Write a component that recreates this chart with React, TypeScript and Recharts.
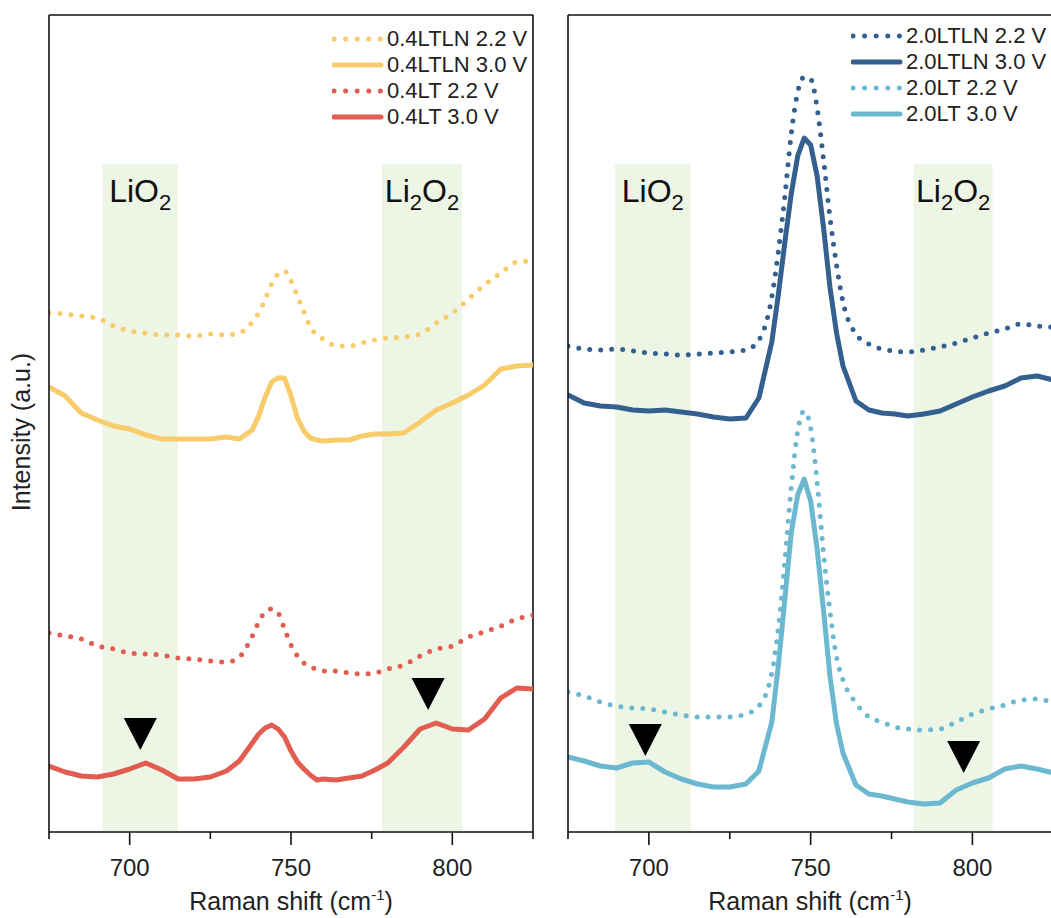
import React from "react";
import {
  ComposedChart,
  Line,
  XAxis,
  YAxis,
  ReferenceArea,
  ReferenceLine,
  ReferenceDot,
} from "recharts";

// Raman shift grid (cm-1), shared by every trace
const shift = [
  675, 680, 685, 690, 695, 700, 705, 710, 715, 720, 725, 730, 734, 738, 740,
  742, 744, 746, 748, 750, 752, 754, 756, 758, 760, 764, 768, 772, 776, 780,
  785, 790, 795, 800, 805, 810, 815, 820, 825,
];

// intensities (a.u.)
const ltln04At22 = [
  519, 518, 516, 514, 506, 501, 499, 497, 497, 496, 498, 497, 499, 510, 519,
  533, 548, 558, 561, 551, 536, 520, 505, 497, 493, 486, 486, 489, 492, 494,
  495, 498, 509, 519, 533, 547, 559, 570, 571,
];
const ltln04At30 = [
  445, 436, 419, 412, 406, 403, 397, 393, 393, 393, 393, 395, 393, 402, 416,
  435, 450, 454, 454, 436, 414, 401, 394, 392, 391, 392, 392, 396, 398, 398,
  399, 410, 422, 429, 437, 447, 463, 466, 467,
];
const lt04At22 = [
  199, 196, 193, 186, 183, 179, 178, 177, 174, 173, 171, 170, 175, 196, 210,
  220, 223, 219, 203, 187, 176, 169, 165, 163, 161, 161, 159, 158, 159, 163,
  167, 176, 183, 186, 195, 200, 206, 213, 217,
];
const lt04At30 = [
  66, 60, 56, 55, 58, 63, 69, 62, 53, 53, 55, 61, 71, 89, 98, 104, 107, 103,
  95, 81, 70, 63, 57, 52, 53, 52, 54, 56, 62, 69, 85, 103, 109, 103, 102, 113,
  134, 144, 143,
];
const ltln20At22 = [
  486, 483, 482, 483, 481, 479, 478, 477, 478, 479, 480, 482, 492, 535, 580,
  635, 698, 740, 755, 753, 724, 672, 614, 567, 530, 498, 488, 483, 481, 480,
  482, 485, 489, 494, 499, 503, 508, 506, 505,
];
const ltln20At30 = [
  437, 429, 426, 425, 422, 421, 422, 420, 418, 415, 413, 414, 434, 490, 537,
  589, 638, 676, 694, 687, 656, 604, 544, 499, 466, 431, 422, 419, 418, 416,
  418, 421, 428, 435, 441, 446, 454, 456, 452,
];
const lt20At22 = [
  140, 136, 130, 126, 124, 123, 120, 117, 115, 115, 115, 118, 126, 159, 203,
  270, 344, 401, 421, 404, 350, 278, 220, 175, 152, 129, 115, 110, 105, 103,
  102, 103, 110, 118, 123, 127, 132, 133, 129,
];
const lt20At30 = [
  75, 71, 66, 64, 69, 70, 60, 53, 48, 45, 45, 48, 61, 110, 166, 232, 299, 337,
  353, 331, 283, 221, 155, 108, 79, 47, 38, 36, 33, 30, 28, 29, 42, 49, 54, 63,
  66, 63, 59,
];

const majorTicks = [700, 750, 800];
const minorTicks = [675, 725, 775, 825];

// shaded reference bands
const leftBands = [
  { x1: 691.6, x2: 714.9, label: "LiO2" },
  { x1: 778.2, x2: 803, label: "Li2O2" },
];
const rightBands = [
  { x1: 689.5, x2: 712.9, label: "LiO2" },
  { x1: 781.9, x2: 806.2, label: "Li2O2" },
];

// black triangle markers
const leftMarkers = [
  { x: 703.3, y: 98 },
  { x: 792.5, y: 138 },
];
const rightMarkers = [
  { x: 698.9, y: 92 },
  { x: 797.3, y: 75 },
];

const FONT = '"Liberation Sans", Arial, sans-serif';
const YELLOW = "#F8CB6B";
const RED = "#E25D4F";
const NAVY = "#33608F";
const SKY = "#6BB8D0";
const BAND = "#EDF5E5";
const AXIS = "#111";
const TOP = 817;
const BAND_TOP = 668;

interface Series {
  name: string;
  color: string;
  dotted: boolean;
  values: number[];
}

const leftSeries: Series[] = [
  { name: "0.4LTLN 2.2 V", color: YELLOW, dotted: true, values: ltln04At22 },
  { name: "0.4LTLN 3.0 V", color: YELLOW, dotted: false, values: ltln04At30 },
  { name: "0.4LT 2.2 V", color: RED, dotted: true, values: lt04At22 },
  { name: "0.4LT 3.0 V", color: RED, dotted: false, values: lt04At30 },
];
const rightSeries: Series[] = [
  { name: "2.0LTLN 2.2 V", color: NAVY, dotted: true, values: ltln20At22 },
  { name: "2.0LTLN 3.0 V", color: NAVY, dotted: false, values: ltln20At30 },
  { name: "2.0LT 2.2 V", color: SKY, dotted: true, values: lt20At22 },
  { name: "2.0LT 3.0 V", color: SKY, dotted: false, values: lt20At30 },
];

const ShiftTick = (props: any) => {
  const { x, y, payload } = props;
  const major = majorTicks.includes(payload.value);
  return (
    <g>
      <line x1={x} y1={y} x2={x} y2={y + (major ? 13 : 7)} stroke={AXIS} strokeWidth={1.6} />
      {major && (
        <text x={x} y={y + 44} textAnchor="middle" fontSize={24} fontFamily={FONT} fill="#222">
          {payload.value}
        </text>
      )}
    </g>
  );
};

const XTitle = (props: any) => {
  const { viewBox } = props;
  return (
    <text
      x={viewBox.x + viewBox.width / 2}
      y={viewBox.y + 78}
      textAnchor="middle"
      fontSize={25}
      fontFamily={FONT}
      fill="#222"
    >
      Raman shift (cm
      <tspan fontSize={15} dy={-10}>-1</tspan>
      <tspan dy={10}>)</tspan>
    </text>
  );
};

const YTitle = () => (
  <text
    x={30}
    y={432}
    transform="rotate(-90 30 432)"
    textAnchor="middle"
    fontSize={25}
    fontFamily={FONT}
    fill="#222"
  >
    Intensity (a.u.)
  </text>
);

const BandLabel = (props: any) => {
  const { viewBox, text } = props;
  const parts: string[] = text.split(/(\d)/).filter(Boolean);
  return (
    <text
      x={viewBox.x + viewBox.width / 2}
      y={viewBox.y + 38}
      textAnchor="middle"
      fontSize={32}
      fontFamily={FONT}
      fill="#111"
    >
      {parts.map((p, i) => {
        const sub = /\d/.test(p);
        const prevSub = i > 0 && /\d/.test(parts[i - 1]);
        return (
          <tspan key={i} fontSize={sub ? 22 : 32} dy={sub ? 8 : prevSub ? -8 : 0}>
            {p}
          </tspan>
        );
      })}
    </text>
  );
};

const triangle = (props: any) => {
  const { cx, cy } = props;
  return (
    <path
      d={`M${cx - 16.5},${cy - 16} L${cx + 16.5},${cy - 16} L${cx},${cy + 16} Z`}
      fill="#000"
    />
  );
};

const Legend = ({ series, left, top }: { series: Series[]; left: number; top: number }) => (
  <div style={{ position: "absolute", left, top, fontFamily: FONT, fontSize: 22, color: "#222" }}>
    {series.map((s) => (
      <div key={s.name} style={{ display: "flex", alignItems: "center", height: 26 }}>
        <svg width={52} height={26} style={{ marginRight: 3 }}>
          <line
            x1={2}
            y1={13}
            x2={49}
            y2={13}
            stroke={s.color}
            strokeWidth={5}
            strokeLinecap="round"
            strokeDasharray={s.dotted ? "0 11.6" : undefined}
          />
        </svg>
        <span style={{ lineHeight: "26px", whiteSpace: "nowrap" }}>{s.name}</span>
      </div>
    ))}
  </div>
);

interface PanelProps {
  series: Series[];
  bands: { x1: number; x2: number; label: string }[];
  markers: { x: number; y: number }[];
  width: number;
  yAxisWidth: number;
  marginRight: number;
  xMax: number;
  boxed: boolean;
  yTitle: boolean;
}

const Panel = ({ series, bands, markers, width, yAxisWidth, marginRight, xMax, boxed, yTitle }: PanelProps) => {
  const rows = shift.map((x, i) => {
    const row: Record<string, number> = { x };
    series.forEach((s, k) => {
      row[`s${k}`] = s.values[i];
    });
    return row;
  });
  const ticks = [...minorTicks, ...majorTicks].filter((t) => t <= xMax).sort((a, b) => a - b);

  return (
    <ComposedChart
      width={width}
      height={918}
      data={rows}
      margin={{ top: 15, right: marginRight, bottom: 0, left: 0 }}
    >
      <XAxis
        dataKey="x"
        type="number"
        domain={[675, xMax]}
        allowDataOverflow
        ticks={ticks}
        interval={0}
        tick={<ShiftTick />}
        tickLine={false}
        tickSize={0}
        tickMargin={0}
        height={86}
        axisLine={{ stroke: AXIS, strokeWidth: 1.6 }}
        label={<XTitle />}
      />
      <YAxis
        type="number"
        domain={[0, TOP]}
        allowDataOverflow
        width={yAxisWidth}
        tick={false}
        tickLine={false}
        axisLine={{ stroke: AXIS, strokeWidth: 1.6 }}
        label={yTitle ? <YTitle /> : undefined}
      />
      {bands.map((b) => (
        <ReferenceArea
          key={b.label}
          x1={b.x1}
          x2={b.x2}
          y1={0}
          y2={BAND_TOP}
          fill={BAND}
          fillOpacity={1}
          stroke="none"
          label={<BandLabel text={b.label} />}
        />
      ))}
      <ReferenceLine y={TOP} stroke={AXIS} strokeWidth={1.6} />
      {boxed && <ReferenceLine x={825} stroke={AXIS} strokeWidth={1.6} />}
      {series.map((s, k) => (
        <Line
          key={s.name}
          dataKey={`s${k}`}
          name={s.name}
          type={s.dotted ? "monotone" : "linear"}
          stroke={s.color}
          strokeWidth={5}
          strokeDasharray={s.dotted ? "0 11" : undefined}
          strokeLinecap="round"
          strokeLinejoin="round"
          dot={false}
          activeDot={false}
          isAnimationActive={false}
        />
      ))}
      {markers.map((m, i) => (
        <ReferenceDot key={i} x={m.x} y={m.y} r={16} shape={triangle} />
      ))}
    </ComposedChart>
  );
};

export default function App() {
  return (
    <div style={{ position: "relative", width: 1051, height: 918, overflow: "hidden", background: "#fff" }}>
      <style>{`body{margin:0;overflow:hidden;background:#fff}`}</style>
      <div style={{ position: "absolute", left: 0, top: 0 }}>
        <Panel
          series={leftSeries}
          bands={leftBands}
          markers={leftMarkers}
          width={560}
          yAxisWidth={49}
          marginRight={27}
          xMax={825}
          boxed
          yTitle
        />
      </div>
      <div style={{ position: "absolute", left: 540, top: 0 }}>
        <Panel
          series={rightSeries}
          bands={rightBands}
          markers={rightMarkers}
          width={512}
          yAxisWidth={28}
          marginRight={0}
          xMax={824.6}
          boxed={false}
          yTitle={false}
        />
      </div>
      <Legend series={leftSeries} left={332} top={26} />
      <Legend series={rightSeries} left={851} top={23} />
    </div>
  );
}
